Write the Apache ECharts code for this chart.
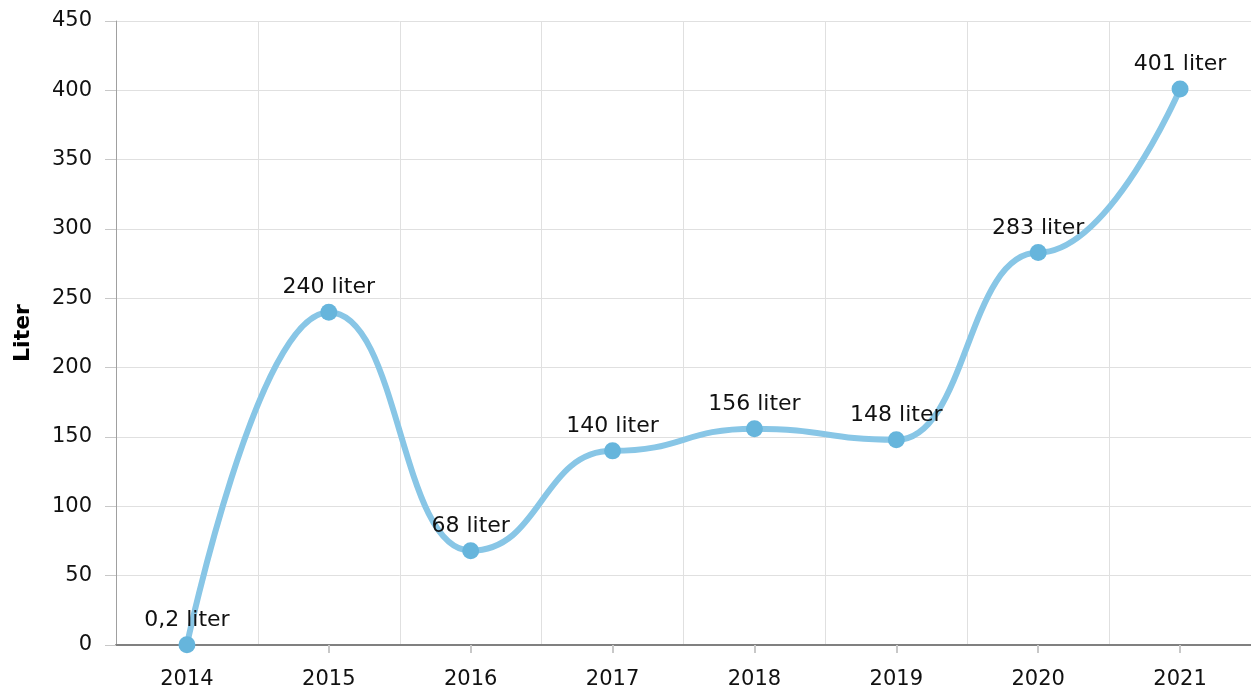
<!DOCTYPE html>
<html>
<head>
<meta charset="utf-8">
<script src="https://cdn.jsdelivr.net/npm/echarts@6/dist/echarts.min.js"></script>
<style>
html,body{margin:0;padding:0;background:#fff;}
#chart{width:1251px;height:693px;}
</style>
</head>
<body>
<div id="chart"></div>
<script>
const categories = ['2014','2015','2016','2017','2018','2019','2020','2021'];
const values = [0.2, 240, 68, 140, 156, 148, 283, 401];
const labels = ['0,2 liter','240 liter','68 liter','140 liter','156 liter','148 liter','283 liter','401 liter'];
const axisName = 'Liter';

const font = 'DejaVu Sans, Verdana, sans-serif';
const chart = echarts.init(document.getElementById('chart'));
chart.setOption({
  animation: false,
  grid: {left: 116, right: 0, top: 21, bottom: 48, containLabel: false, outerBoundsMode: 'none'},
  xAxis: {
    type: 'category',
    data: categories,
    boundaryGap: true,
    axisLine: {lineStyle: {color: '#808080', width: 2}},
    axisTick: {show: true, alignWithLabel: true, length: 8, lineStyle: {color: '#c8c8c8', width: 2}},
    axisLabel: {color: '#111', fontSize: 21, fontFamily: font, margin: 24},
    splitLine: {show: true, lineStyle: {color: '#e0e0e0', width: 1}}
  },
  yAxis: {
    type: 'value',
    min: 0, max: 450, interval: 50,
    name: axisName,
    nameLocation: 'middle',
    nameRotate: 90,
    nameGap: 82,
    nameTextStyle: {color: '#000', fontSize: 22, fontWeight: 'bold', fontFamily: font},
    axisLine: {show: true, lineStyle: {color: '#a0a0a0', width: 1}},
    axisTick: {show: true, length: 11, lineStyle: {color: '#c8c8c8'}},
    axisLabel: {color: '#111', fontSize: 21, fontFamily: font, margin: 24},
    splitLine: {show: true, lineStyle: {color: '#e0e0e0', width: 1}}
  },
  series: [{
    type: 'line',
    data: values,
    smooth: 0.5,
    smoothMonotone: 'x',
    symbol: 'circle',
    symbolSize: 17,
    lineStyle: {color: '#88c6e6', width: 6},
    itemStyle: {color: '#66b5dc'},
    label: {
      show: true,
      position: 'top',
      distance: 5,
      color: '#111',
      fontSize: 22,
      fontFamily: font,
      formatter: p => labels[p.dataIndex]
    }
  }]
});
</script>
</body>
</html>
